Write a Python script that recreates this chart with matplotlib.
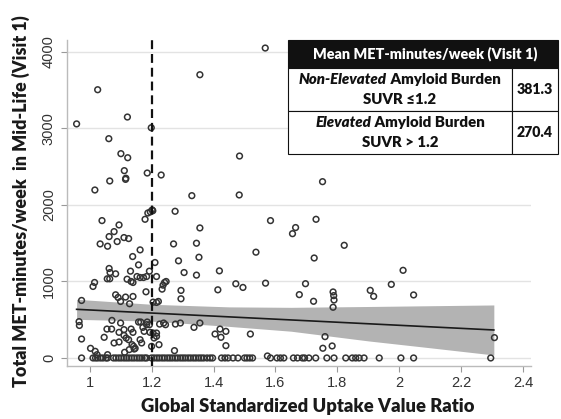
import matplotlib
matplotlib.use("Agg")
import matplotlib.pyplot as plt
from matplotlib.patches import Rectangle
import numpy as np

plt.rcParams["font.family"] = ["Lato", "DejaVu Sans"]

# participants with some activity (SUVR, MET-min/week)
suvr = [0.958, 1.026, 1.122, 1.062, 1.101, 1.123, 1.112, 1.116, 1.117, 1.065, 1.017, 1.199, 1.186,
        1.231, 1.356, 1.567, 1.484, 1.330, 1.483, 1.276, 1.204, 1.188, 1.196, 1.202,
        1.040, 1.095, 1.079, 1.063, 1.111, 1.126, 1.089, 1.034, 1.058, 1.179, 1.271, 1.356, 1.345,
        1.584, 1.752, 1.731, 1.665, 1.655, 1.822, 1.725, 2.012, 1.697, 1.974, 1.906, 1.917, 2.046,
        1.677, 1.786, 1.788, 1.789, 1.723, 1.786, 1.760, 1.783, 1.753, 2.307,
        1.163, 1.139, 1.158, 1.211, 1.287, 1.305, 1.063, 1.066, 1.353, 1.345, 1.419, 1.084, 1.132,
        1.153, 1.163, 1.174, 1.184, 1.193, 1.216, 1.057, 1.065, 1.121, 1.134, 1.140, 1.016, 1.011,
        1.182, 1.234, 1.237, 1.242, 1.247, 1.295, 1.295, 1.414, 1.472, 1.495, 1.568, 1.537,
        1.084, 1.092, 1.116, 1.140, 1.100, 1.129, 0.974, 1.205, 1.216, 1.222,
        0.966, 0.967, 0.974, 1.003, 1.018, 1.024, 1.047, 1.056, 1.071, 1.072, 1.079, 1.095, 1.095,
        1.111, 1.111, 1.100, 1.118, 1.126, 1.134, 1.140, 1.137, 1.128, 1.144, 1.113, 1.163, 1.168,
        1.158, 1.165, 1.172, 1.176, 1.184, 1.193, 1.186, 1.195, 1.205, 1.216, 1.200, 1.208, 1.216,
        1.224, 1.226, 1.239, 1.245, 1.277, 1.274, 1.293, 1.337, 1.356, 1.405, 1.421, 1.424, 1.440,
        1.440, 1.519, 1.574, 1.058, 1.142, 1.147]
met = [3060, 3507, 3150, 2867, 2671, 2618, 2449, 2335, 2350, 2314, 2196, 3010, 2418,
       2392, 3703, 4052, 2640, 2122, 2131, 1918, 1925, 1895, 1910, 1935,
       1796, 1739, 1652, 1587, 1574, 1561, 1522, 1491, 1461, 1813, 1491, 1700, 1500,
       1796, 2305, 1813, 1705, 1625, 1473, 1307, 1146, 971, 962, 884, 806, 824,
       828, 863, 815, 758, 741, 663, 279, 157, 127, 266,
       1413, 1326, 1217, 1248, 1270, 1117, 1170, 1117, 1317, 1083, 1139, 1100, 1135,
       1065, 1052, 1052, 1065, 1135, 1065, 1035, 1035, 1030, 1000, 987, 987, 935,
       865, 900, 952, 987, 1000, 883, 774, 891, 970, 922, 978, 1383,
       826, 791, 796, 804, 739, 709, 752, 730, 726, 739,
       475, 425, 248, 126, 87, 43, 270, 378, 378, 491, 196, 209, 335,
       370, 296, 457, 261, 239, 378, 335, 174, 109, 117, 74, 239, 196,
       470, 470, 400, 348, 435, 435, 470, 335, 326, 326, 152, 261, 283,
       174, 443, 457, 435, 443, 96, 457, 400, 457, 313, 378, 270, 348,
       161, 313, 26, 43, 152, 126]

# participants reporting zero activity
suvr_zero = [0.974, 1.011, 1.019, 1.026, 1.035, 1.043, 1.053, 1.058,
             1.077, 1.085, 1.094, 1.102, 1.111, 1.119, 1.127, 1.136, 1.144, 1.153, 1.161, 1.169,
             1.178, 1.184, 1.200, 1.208, 1.217, 1.225, 1.234, 1.242, 1.251, 1.259, 1.267, 1.276,
             1.284, 1.293, 1.301, 1.309, 1.318, 1.326, 1.335, 1.343, 1.352, 1.360, 1.368, 1.379,
             1.389, 1.397, 1.426, 1.437, 1.447, 1.463, 1.479, 1.500, 1.508, 1.517, 1.526,
             1.584, 1.605, 1.616, 1.627, 1.658, 1.671, 1.687, 1.694, 1.708, 1.730, 1.766, 1.789,
             1.827, 1.848, 1.859, 1.870, 1.886, 1.935, 2.005, 2.046, 2.295]
met_zero = [0] * len(suvr_zero)

# linear fit and its confidence band
fit_x = [0.958, 2.305]
fit_y = [636, 366]
band_x = [0.958, 1.2, 1.45, 1.65, 1.9, 2.1, 2.305]
band_lo = [505, 482, 413, 350, 223, 133, 39]
band_hi = [767, 702, 668, 662, 673, 683, 693]

cutoff = 1.2
xticks = [1, 1.2, 1.4, 1.6, 1.8, 2, 2.2, 2.4]
xticklabels = ["1", "1.2", "1.4", "1.6", "1.8", "2", "2.2", "2.4"]
yticks = [0, 1000, 2000, 3000, 4000]

table_title = "Mean MET-minutes/week (Visit 1)"
groups = [("Non-Elevated", " Amyloid Burden", "SUVR \u22641.2"),
          ("Elevated", " Amyloid Burden", "SUVR > 1.2")]
group_means = ["381.3", "270.4"]

W, H = 561, 419
fig = plt.figure(figsize=(W / 100, H / 100), dpi=100)
ax = fig.add_axes([67 / W, 1 - 366 / H, (531 - 67) / W, (366 - 40) / H])

ax.fill_between(band_x, band_lo, band_hi, color="#b3b3b3", lw=0, zorder=2)
ax.plot(fit_x, fit_y, color="#1a1a1a", lw=1.2, zorder=3)
ax.scatter(suvr, met, s=17, facecolors="none", edgecolors="#333333", linewidths=1.1, zorder=4)
ax.scatter(suvr_zero, met_zero, s=17, facecolors="none", edgecolors="#333333", linewidths=1.1, zorder=4)
ax.axvline(cutoff, color="#111111", lw=1.6, dashes=(4, 2.2), zorder=5)

ax.set_xlim(0.927, 2.425)
ax.set_ylim(-105, 4157)
ax.set_xticks(xticks)
ax.set_xticklabels(xticklabels)
ax.set_yticks(yticks)
ax.set_yticklabels([str(v) for v in yticks], rotation=90, va="center")
for lab in ax.get_xticklabels() + ax.get_yticklabels():
    lab.set_family(["Liberation Sans", "DejaVu Sans"])
    lab.set_fontsize(10.5)
    lab.set_color("#333333")
ax.tick_params(axis="both", colors="#999999", length=4, width=0.8, labelcolor="#333333")
ax.tick_params(axis="y", pad=4)
ax.tick_params(axis="x", pad=3)
ax.grid(axis="y", color="#e3e3e3", lw=1.0)
ax.set_axisbelow(True)
for s in ["top", "right"]:
    ax.spines[s].set_visible(False)
for s in ["left", "bottom"]:
    ax.spines[s].set_color("#bbbbbb")
    ax.spines[s].set_linewidth(1.0)

fig.text(308 / W, 1 - 406 / H, "Global Standardized Uptake Value Ratio",
         ha="center", va="center", fontsize=13.2, fontweight="heavy", color="#1a1a1a")
fig.text(21 / W, 1 - 201 / H, "Total MET-minutes/week  in Mid-Life (Visit 1)",
         ha="center", va="center", rotation=90, fontsize=12.9, fontweight="heavy", color="#1a1a1a")


# table in the upper right corner (positions in reference pixels)
def fx(px):
    return px / W


def fy(py):
    return 1 - py / H


def box(x0, y0, x1, y1, fc="white"):
    fig.patches.append(Rectangle((fx(x0), fy(y1)), fx(x1) - fx(x0), fy(y0) - fy(y1),
                                 transform=fig.transFigure, facecolor=fc, edgecolor="#111111",
                                 lw=0.8, zorder=6))


box(288, 40, 558, 68, fc="#111111")
fig.text(fx(425), fy(54), table_title, ha="center", va="center", color="white",
         fontsize=10.4, fontweight="heavy", zorder=7)

rows_y = [(68, 111), (111, 154)]
renderer = fig.canvas.get_renderer()
for (y0, y1), (ital, rest, suvr_txt), mean in zip(rows_y, groups, group_means):
    box(288, y0, 512, y1)
    box(512, y0, 558, y1)
    ym = (y0 + y1) / 2
    t1 = fig.text(0, fy(ym - 10), ital, ha="left", va="center", fontsize=10.8,
                  fontweight="heavy", style="italic", color="#111111", zorder=7)
    t2 = fig.text(0, fy(ym - 10), rest, ha="left", va="center", fontsize=10.8,
                  fontweight="heavy", color="#111111", zorder=7)
    w1 = t1.get_window_extent(renderer).width
    w2 = t2.get_window_extent(renderer).width
    start = 400 - (w1 + w2) / 2
    t1.set_x(fx(start))
    t2.set_x(fx(start + w1))
    fig.text(fx(400), fy(ym + 10), suvr_txt, ha="center", va="center", fontsize=10.8,
             fontweight="heavy", color="#111111", zorder=7)
    fig.text(fx(535), fy(ym), mean, ha="center", va="center", fontsize=10.2,
             fontweight="heavy", color="#111111", zorder=7)

fig.savefig("out.png", dpi=100)
